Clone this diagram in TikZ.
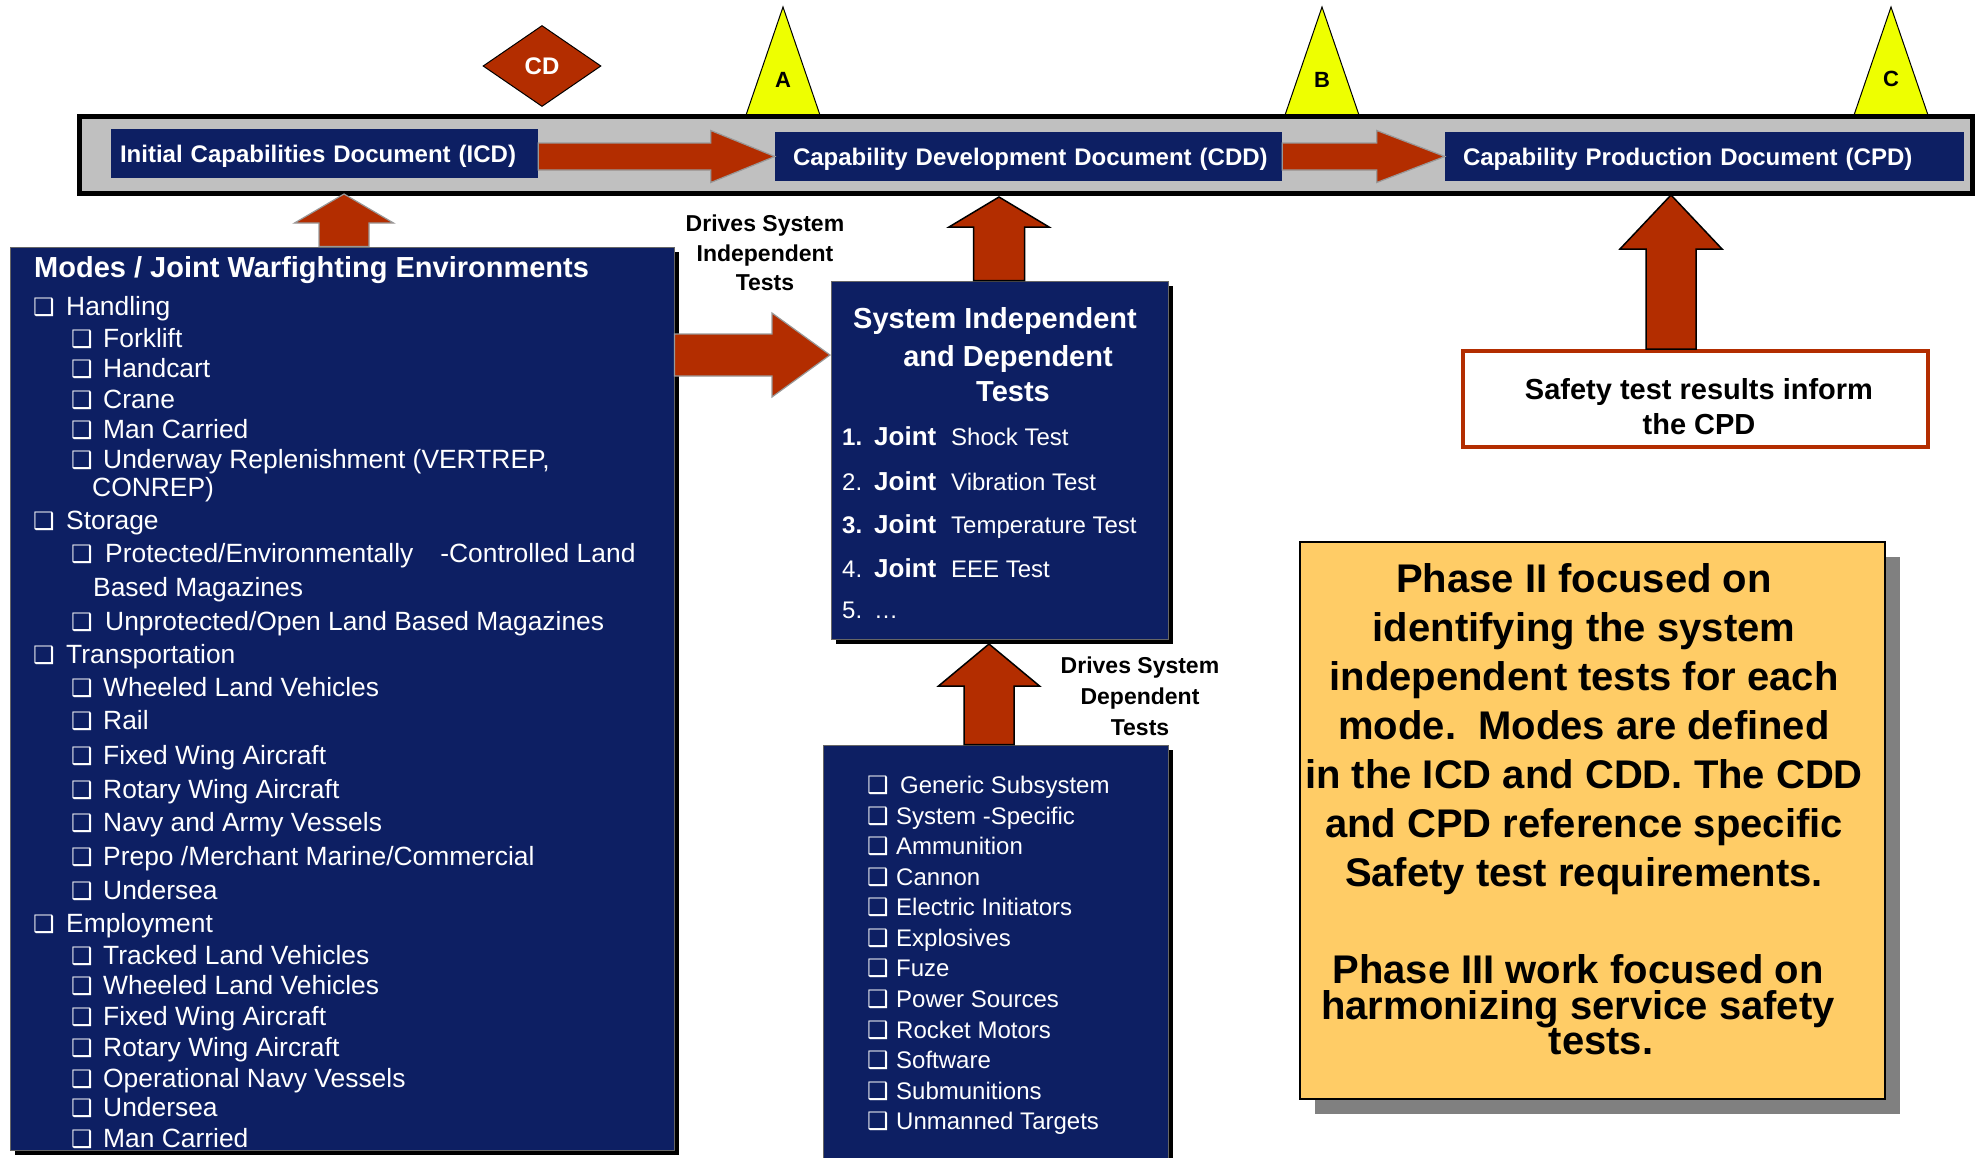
\documentclass[tikz,border=0pt]{standalone}
\usepackage{fontspec}
\setmainfont{Liberation Sans}
\newfontfamily\dejavu{DejaVu Sans}
\usetikzlibrary{calc,shapes.geometric,shadows}

\definecolor{navy}{RGB}{13,31,99}
\definecolor{brick}{RGB}{179,45,0}
\definecolor{barGray}{RGB}{192,192,192}
\definecolor{msYellow}{RGB}{238,255,0}
\definecolor{noteOrange}{RGB}{255,204,102}
\definecolor{shadowGray}{RGB}{128,128,128}

\newcommand{\fsz}[2]{\fontsize{#1}{#2}\selectfont}
\newcommand{\chk}{{\dejavu\fsz{24}{24}❑}}
\newcommand{\lvone}[1]{\makebox[33pt][l]{\chk}#1}
\newcommand{\lvtwo}[1]{\makebox[32pt][l]{\chk}#1}
\newcommand{\depitem}[1]{\makebox[29pt][l]{\chk}#1}
\newcommand{\joint}[2]{\makebox[32pt][l]{#1}\makebox[77pt][l]{\fsz{26}{28}\bfseries Joint}#2}

% block arrow pointing right: style, from, tip, shaft half, head half, head length
\newcommand{\blockright}[6]{%
  \draw[#1] let \p1=(#2), \p2=(#3) in
    (\x1,\y2+#4) -- (\x2-#6,\y2+#4) -- (\x2-#6,\y2+#5) -- (\x2,\y2)
    -- (\x2-#6,\y2-#5) -- (\x2-#6,\y2-#4) -- (\x1,\y2-#4) -- cycle;}
% block arrow pointing up: style, from (base), tip, shaft half, head half, head length
\newcommand{\blockup}[6]{%
  \draw[#1] let \p1=(#2), \p2=(#3) in
    (\x2-#4,\y1) -- (\x2-#4,\y2-#6) -- (\x2-#5,\y2-#6) -- (\x2,\y2)
    -- (\x2+#5,\y2-#6) -- (\x2+#4,\y2-#6) -- (\x2+#4,\y1) -- cycle;}

\tikzset{
  docbox/.style={fill=navy, inner ysep=0pt, text=white, align=left,
    font=\fsz{24}{29}\bfseries, minimum height=49pt,
    text height=17.2pt, text depth=0pt},
  panel/.style={fill=navy, draw=black!60, line width=1pt, inner sep=0pt,
    drop shadow={shadow xshift=5pt, shadow yshift=-5pt, fill=black, opacity=1}},
  item/.style={anchor=west, inner sep=0pt, text=white, font=\fsz{26.4}{30},
    text height=18.9pt, text depth=0pt},
  smallitem/.style={anchor=west, inner sep=0pt, text=white, font=\fsz{24}{28},
    text height=17.2pt, text depth=0pt},
  boldline/.style={inner sep=0pt, text=white, font=\fsz{29}{34}\bfseries,
    text height=21pt, text depth=0pt},
  caption/.style={inner sep=0pt, align=center, font=\fsz{23}{29.5}\bfseries},
  softarrow/.style={fill=brick, draw=black!40, line width=1.2pt},
  hardarrow/.style={fill=brick, draw=black, line width=1.5pt},
  milestone/.style={fill=msYellow, draw=black, line width=1pt},
  mslabel/.style={inner sep=0pt, font=\fsz{22}{24}\bfseries},
}

\begin{document}
\begin{tikzpicture}[x=1pt,y=-1pt]
\useasboundingbox (0,0) rectangle (1976,1157);

% milestones above the timeline
\draw[milestone] (745,118) -- (783,7) -- (821,118) -- cycle;
\draw[milestone] (1284,118) -- (1322,7) -- (1360,118) -- cycle;
\draw[milestone] (1853,118) -- (1891,7) -- (1929,118) -- cycle;
\node[mslabel] (msA) at (783,80) {A};
\node[mslabel] (msB) at (1322,80) {B};
\node[mslabel] (msC) at (1891,79) {C};
\node[diamond, fill=brick, draw=black, line width=1pt, minimum width=118pt,
      minimum height=81pt, inner sep=0pt, text=white, font=\fsz{24}{24}\bfseries]
      (cd) at (542,66) {CD};

% timeline bar with the three documents
\node[draw=black, line width=5pt, fill=barGray, minimum width=1893pt,
      minimum height=77pt, inner sep=0pt] (bar) at (1026,155) {};
\node[docbox, inner xsep=9pt, text width=409pt] (icd) at (324.5,153.5)
  {Initial Capabilities Document (ICD)};
\node[docbox, inner xsep=12pt, text width=483pt] (cdd) at (1028.5,156.5)
  {\hspace{6pt}Capability Development Document (CDD)};
\node[docbox, inner xsep=18pt, text width=483pt] (cpd) at (1704.5,156.5)
  {Capability Production Document (CPD)};

% panels
\node[panel, minimum width=664pt, minimum height=903pt] (modes) at (342,698.5) {};
\node[panel, minimum width=337pt, minimum height=358pt] (sit) at (999.5,460) {};
\node[panel, minimum width=345pt, minimum height=438pt] (dep) at (995.5,964) {};
\node[fill=white, draw=brick, line width=4pt, minimum width=465pt,
      minimum height=96pt, inner sep=0pt] (safety) at (1695.5,399) {};
\node[fill=noteOrange, draw=black, line width=1.5pt, minimum width=585pt,
      minimum height=557pt, inner sep=0pt,
      drop shadow={shadow xshift=15pt, shadow yshift=-15pt, fill=shadowGray, opacity=1}]
      (phase) at (1592.5,820.5) {};

% arrow tips
\coordinate (icdIn) at (344,194);
\coordinate (cddIn) at (999,197);
\coordinate (cpdIn) at (1671,195);
\coordinate (sitTop) at (989,644);
\coordinate (sitSide) at (830,355);

% connectors
\blockright{softarrow}{icd.east}{cdd.west}{13.5pt}{26pt}{64pt}
\blockright{softarrow}{cdd.east}{cpd.west}{13.5pt}{26pt}{68pt}
\blockright{softarrow}{modes.east}{sitSide}{21pt}{42pt}{58pt}
\blockup{softarrow}{modes.north}{icdIn}{25pt}{49.5pt}{29pt}
\blockup{hardarrow}{sit.north}{cddIn}{25.5pt}{50pt}{30pt}
\blockup{hardarrow}{dep.north}{sitTop}{25pt}{50.5pt}{42pt}
\blockup{hardarrow}{safety.north}{cpdIn}{25pt}{51pt}{54pt}

% modes / joint warfighting environments
\node[boldline, anchor=west] (modesTitle) at (34,267) {Modes / Joint Warfighting Environments};
\node[item] (m1) at (33,306) {\lvone{Handling}};
\node[item] (m2) at (71,338) {\lvtwo{Forklift}};
\node[item] (m3) at (71,368) {\lvtwo{Handcart}};
\node[item] (m4) at (71,399) {\lvtwo{Crane}};
\node[item] (m5) at (71,429) {\lvtwo{Man Carried}};
\node[item] (m6) at (71,459) {\lvtwo{Underway Replenishment (VERTREP,}};
\node[item] (m6b) at (92,487) {CONREP)};
\node[item] (m7) at (33,520) {\lvone{Storage}};
\node[item] (m8) at (71,553) {\lvtwo{\hspace{2pt}Protected/Environmentally\hspace{27pt}-Controlled Land}};
\node[item] (m8b) at (93,587) {Based Magazines};
\node[item] (m9) at (71,621) {\lvtwo{\hspace{2pt}Unprotected/Open Land Based Magazines}};
\node[item] (m10) at (33,654) {\lvone{Transportation}};
\node[item] (m11) at (71,687) {\lvtwo{Wheeled Land Vehicles}};
\node[item] (m12) at (71,720) {\lvtwo{Rail}};
\node[item] (m13) at (71,755) {\lvtwo{Fixed Wing Aircraft}};
\node[item] (m14) at (71,789) {\lvtwo{Rotary Wing Aircraft}};
\node[item] (m15) at (71,822) {\lvtwo{Navy and Army Vessels}};
\node[item] (m16) at (71,856) {\lvtwo{Prepo /Merchant Marine/Commercial}};
\node[item] (m17) at (71,890) {\lvtwo{Undersea}};
\node[item] (m18) at (33,923) {\lvone{Employment}};
\node[item] (m19) at (71,955) {\lvtwo{Tracked Land Vehicles}};
\node[item] (m20) at (71,985) {\lvtwo{Wheeled Land Vehicles}};
\node[item] (m21) at (71,1016) {\lvtwo{Fixed Wing Aircraft}};
\node[item] (m22) at (71,1047) {\lvtwo{Rotary Wing Aircraft}};
\node[item] (m23) at (71,1078) {\lvtwo{Operational Navy Vessels}};
\node[item] (m24) at (71,1107) {\lvtwo{Undersea}};
\node[item] (m25) at (71,1138) {\lvtwo{Man Carried}};

% system independent and dependent tests
\node[boldline] (sitT1) at (995,318) {System Independent};
\node[boldline] (sitT2) at (1008,356) {and Dependent};
\node[boldline] (sitT3) at (1013,391) {Tests};
\node[smallitem] (j1) at (842,437) {\joint{\bfseries 1.}{Shock Test}};
\node[smallitem] (j2) at (842,482) {\joint{2.}{Vibration Test}};
\node[smallitem] (j3) at (842,525) {\joint{\bfseries 3.}{Temperature Test}};
\node[smallitem] (j4) at (842,569) {\joint{4.}{EEE Test}};
\node[smallitem] (j5) at (842,610) {\makebox[32pt][l]{5.}…};

% system dependent items
\node[smallitem] (d1) at (867,785) {\makebox[33pt][l]{\chk}Generic Subsystem};
\node[smallitem] (d2) at (867,815.5) {\depitem{System -Specific}};
\node[smallitem] (d3) at (867,846) {\depitem{Ammunition}};
\node[smallitem] (d4) at (867,876.5) {\depitem{Cannon}};
\node[smallitem] (d5) at (867,907) {\depitem{Electric Initiators}};
\node[smallitem] (d6) at (867,938) {\depitem{Explosives}};
\node[smallitem] (d7) at (867,968) {\depitem{Fuze}};
\node[smallitem] (d8) at (867,999) {\depitem{Power Sources}};
\node[smallitem] (d9) at (867,1029.5) {\depitem{Rocket Motors}};
\node[smallitem] (d10) at (867,1060) {\depitem{Software}};
\node[smallitem] (d11) at (867,1090.5) {\depitem{Submunitions}};
\node[smallitem] (d12) at (867,1121) {\depitem{Unmanned Targets}};

% captions
\node[caption] (drivesInd) at (765,253) {Drives System\\Independent\\Tests};
\node[caption, font=\fsz{23}{31}\bfseries] (drivesDep) at (1140,696) {Drives System\\Dependent\\Tests};
\node[inner sep=0pt, align=center, font=\fsz{29}{35}\bfseries] (safetyText) at (1699,407)
  {Safety test results inform\\the CPD};

% phase notes
\node[inner sep=0pt, align=center, font={\fsz{40}{49}\bfseries\lineskiplimit=-100pt}]
  (phase2) at (1584,729)
  {Phase II focused on\\identifying the system\\independent tests for each\\
   mode.\ \ Modes are defined\\in the ICD and CDD. The CDD\\and CPD reference specific\\
   Safety test requirements.};
\node[inner sep=0pt, align=center, font={\fsz{40}{35.5}\bfseries\lineskiplimit=-100pt}]
  (phase3) at (1578,1005)
  {Phase III work focused on\\harmonizing service safety\\\hspace*{46pt}tests.};
\end{tikzpicture}
\end{document}
